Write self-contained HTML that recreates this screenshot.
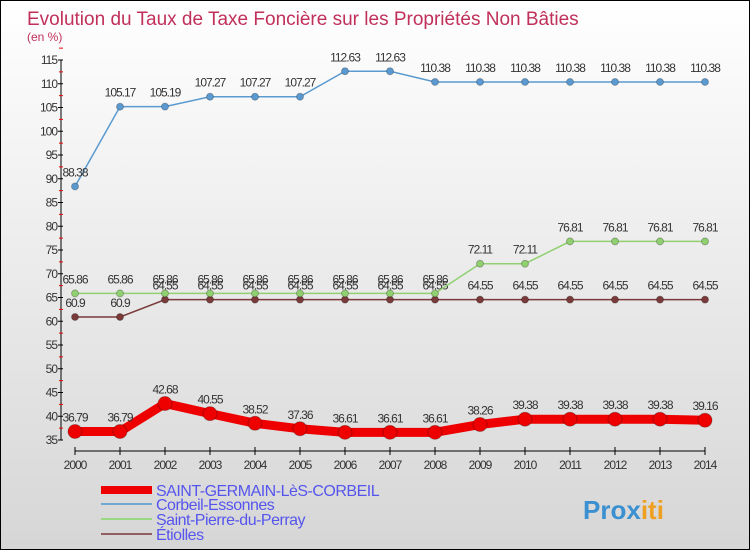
<!DOCTYPE html>
<html><head><meta charset="utf-8"><style>
body{margin:0}
#c{width:748px;height:548px;border:1px solid #000;background:linear-gradient(#fff,#d6d6d6);position:relative;font-family:"Liberation Sans",sans-serif;overflow:hidden}
</style></head><body>
<div id="c">
<svg id="s" width="748" height="548" xmlns="http://www.w3.org/2000/svg"></svg>
</div>
<script>
const years=[2000,2001,2002,2003,2004,2005,2006,2007,2008,2009,2010,2011,2012,2013,2014];
const stGermain=[36.79,36.79,42.68,40.55,38.52,37.36,36.61,36.61,36.61,38.26,39.38,39.38,39.38,39.38,39.16];
const corbeil=[88.38,105.17,105.19,107.27,107.27,107.27,112.63,112.63,110.38,110.38,110.38,110.38,110.38,110.38,110.38];
const stPierre=[65.86,65.86,65.86,65.86,65.86,65.86,65.86,65.86,65.86,72.11,72.11,76.81,76.81,76.81,76.81];
const etiolles=[60.9,60.9,64.55,64.55,64.55,64.55,64.55,64.55,64.55,64.55,64.55,64.55,64.55,64.55,64.55];
const yTicks=[35,40,45,50,55,60,65,70,75,80,85,90,95,100,105,110,115];
const NS='http://www.w3.org/2000/svg';
const s=document.getElementById('s');
const X=i=>74+i*45, Y=v=>59+(115-v)*4.75;
function el(t,a,p){const e=document.createElementNS(NS,t);for(const k in a)e.setAttribute(k,a[k]);(p||s).appendChild(e);return e;}
function txt(x,y,str,a){const e=el('text',Object.assign({x:x,y:y},a));e.textContent=str;return e;}
let t=txt(26,24,'Evolution du Taux de Taxe Foncière sur les Propriétés Non Bâties',{'font-size':19,fill:'#c0305a'});

t=txt(26,40,'(en %)',{'font-size':12,fill:'#c0305a'});

// y axis
let ax=el('line',{x1:60,y1:Y(115),x2:60,y2:Y(35),stroke:'#000'});

yTicks.forEach(v=>{el('line',{x1:57,x2:62,y1:Y(v),y2:Y(v),stroke:'#000'});
 el('line',{x1:58,x2:62,y1:Y(v+2.5),y2:Y(v+2.5),stroke:'#e00'});
 const l=txt(56,Y(v)+4,String(v),{'font-size':12,fill:'#333','text-anchor':'end','letter-spacing':'-1'});
 });
ax=el('line',{x1:X(0),y1:450,x2:X(14),y2:450,stroke:'#000'});

years.forEach((y,i)=>{el('line',{x1:X(i),x2:X(i),y1:446,y2:454,stroke:'#000'});
 const l=txt(X(i),468,String(y),{'font-size':12,fill:'#333','text-anchor':'middle','letter-spacing':'-1'});
 });
function series(d,col,w,r,name){
 const g=el('g',{});
 el('polyline',{points:d.map((v,i)=>X(i)+','+Y(v)).join(' '),fill:'none',stroke:col,'stroke-width':w},g);
 d.forEach((v,i)=>{const c=el('circle',{cx:X(i),cy:Y(v),r:r,fill:col,stroke:'rgba(0,0,0,0.25)'},g);
  
  txt(X(i),Y(v)-10,String(v),{'font-size':12,fill:'#333','text-anchor':'middle','letter-spacing':'-1'},g);});
}
series(etiolles,'#7a3a3a',1.5,3.5,'series-etiolles');
series(stPierre,'#90d070',1.5,3.5,'series-saint-pierre');
series(corbeil,'#5a9ad0',1.5,3.5,'series-corbeil');
series(stGermain,'#ee0000',9,7,'series-saint-germain');
const leg=[['SAINT-GERMAIN-LèS-CORBEIL','#ee0000',8,494],['Corbeil-Essonnes','#70a8d0',2,508],['Saint-Pierre-du-Perray','#98d880',2,523],['Étiolles','#906060',2,538]];
leg.forEach(l=>{const g=el('g',{});
 el('line',{x1:100,x2:151,y1:l[3]-5,y2:l[3]-5,stroke:l[1],'stroke-width':l[2]},g);
 txt(155,l[3]+1,l[0],{'font-size':16,fill:'#5555ee','letter-spacing':'-0.5'},g);});
t=txt(582,518,'Prox',{'font-size':26,'font-weight':'bold',fill:'#3a90d0'});
const ts=el('tspan',{fill:'#f0a020'},t);ts.textContent='iti';

</script>
</body></html>
